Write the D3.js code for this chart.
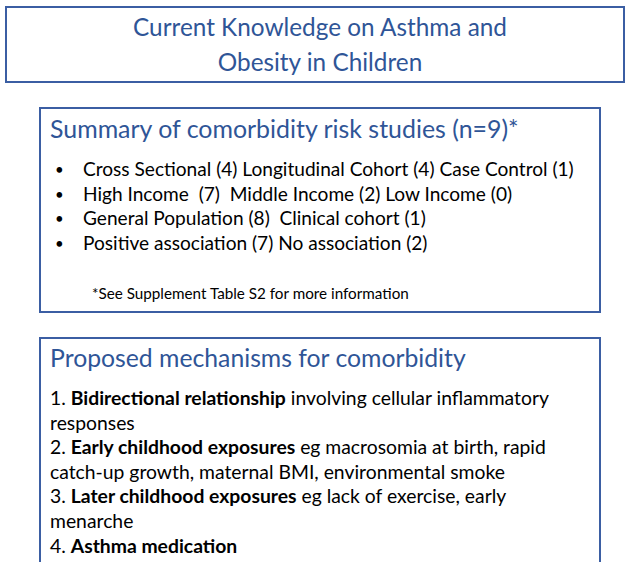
<!DOCTYPE html>
<html>
<head>
<meta charset="utf-8">
<script src="https://cdn.jsdelivr.net/npm/d3@7"></script>
<style>
  body { margin: 0; background: #fff; }
  text { font-family: Lato, "Open Sans", sans-serif; white-space: pre; }
</style>
</head>
<body>
<svg id="chart" width="627" height="562"></svg>
<script>
// text content
const titleLines = ['Current Knowledge on Asthma and', 'Obesity in Children'];
const summaryTitle = 'Summary of comorbidity risk studies (n=9)*';
const summaryItems = [
    'Cross Sectional (4) Longitudinal Cohort (4) Case Control (1)',
    'High Income  (7)  Middle Income (2) Low Income (0)',
    'General Population (8)  Clinical cohort (1)',
    'Positive association (7) No association (2)'
];
const footnote = '*See Supplement Table S2 for more information';
const mechTitle = 'Proposed mechanisms for comorbidity';
// each line: list of [text, bold]
const mechLines = [
    [['1. ', false], ['Bidirectional relationship', true], [' involving cellular inflammatory', false]],
    [['responses', false]],
    [['2. ', false], ['Early childhood exposures', true], [' eg macrosomia at birth, rapid', false]],
    [['catch-up growth, maternal BMI, environmental smoke', false]],
    [['3. ', false], ['Later childhood exposures', true], [' eg lack of exercise, early', false]],
    [['menarche', false]],
    [['4. ', false], ['Asthma medication', true]]
];

const blue = '#2f5597';
const border = '#3b5ea3';
const svg = d3.select('#chart');

// boxes
const boxes = [
    {x: 6, y: 7, w: 618, h: 75},
    {x: 40, y: 108, w: 560, h: 204},
    {x: 40, y: 338, w: 560, h: 240}
];
svg.selectAll('rect.box').data(boxes).enter().append('rect')
    .attr('class', 'box')
    .attr('x', d => d.x).attr('y', d => d.y)
    .attr('width', d => d.w).attr('height', d => d.h)
    .attr('fill', 'none').attr('stroke', border).attr('stroke-width', 2);

// fit a text element to a target width
function fit (sel, width) {
    const len = sel.node().getComputedTextLength();
    const fs = parseFloat(sel.style('font-size'));
    sel.style('font-size', (fs * width / len) + 'px');
}

svg.selectAll('text.title').data(titleLines).enter().append('text')
    .attr('class', 'title')
    .attr('x', 320).attr('y', (d, i) => 36 + i * 35)
    .attr('text-anchor', 'middle')
    .attr('fill', blue)
    .style('font-size', '24px')
    .text(d => d);
fit(svg.select('text.title'), 374);
svg.selectAll('text.title').style('font-size', svg.select('text.title').style('font-size'));

const st = svg.append('text')
    .attr('x', 50).attr('y', 138)
    .attr('fill', blue).style('font-size', '24px')
    .text(summaryTitle);
fit(st, 469);

const items = svg.selectAll('g.item').data(summaryItems).enter().append('g')
    .attr('class', 'item')
    .attr('transform', (d, i) => 'translate(0,' + (176 + i * 24.5) + ')');
items.append('text').attr('x', 55).attr('y', -1).attr('fill', '#000')
    .style('font-size', '15px').text('\u2022');
items.append('text').attr('class', 'itemText').attr('x', 83).attr('fill', '#000')
    .style('font-size', '18px').text(d => d);
fit(svg.select('text.itemText'), 491);
svg.selectAll('text.itemText').style('font-size', svg.select('text.itemText').style('font-size'));

const fn = svg.append('text')
    .attr('x', 92).attr('y', 299)
    .attr('fill', '#000').style('font-size', '14px')
    .text(footnote);
fit(fn, 317);

const mt = svg.append('text')
    .attr('x', 50).attr('y', 367)
    .attr('fill', blue).style('font-size', '24px')
    .text(mechTitle);
fit(mt, 416);

const ml = svg.selectAll('text.mech').data(mechLines).enter().append('text')
    .attr('class', 'mech')
    .attr('x', 50).attr('y', (d, i) => 405 + i * 24.6)
    .attr('fill', '#000').style('font-size', '18px');
ml.selectAll('tspan').data(d => d).enter().append('tspan')
    .attr('font-weight', d => d[1] ? 'bold' : 'normal')
    .text(d => d[0]);
fit(svg.select('text.mech'), 499);
svg.selectAll('text.mech').style('font-size', svg.select('text.mech').style('font-size'));
</script>
</body>
</html>
